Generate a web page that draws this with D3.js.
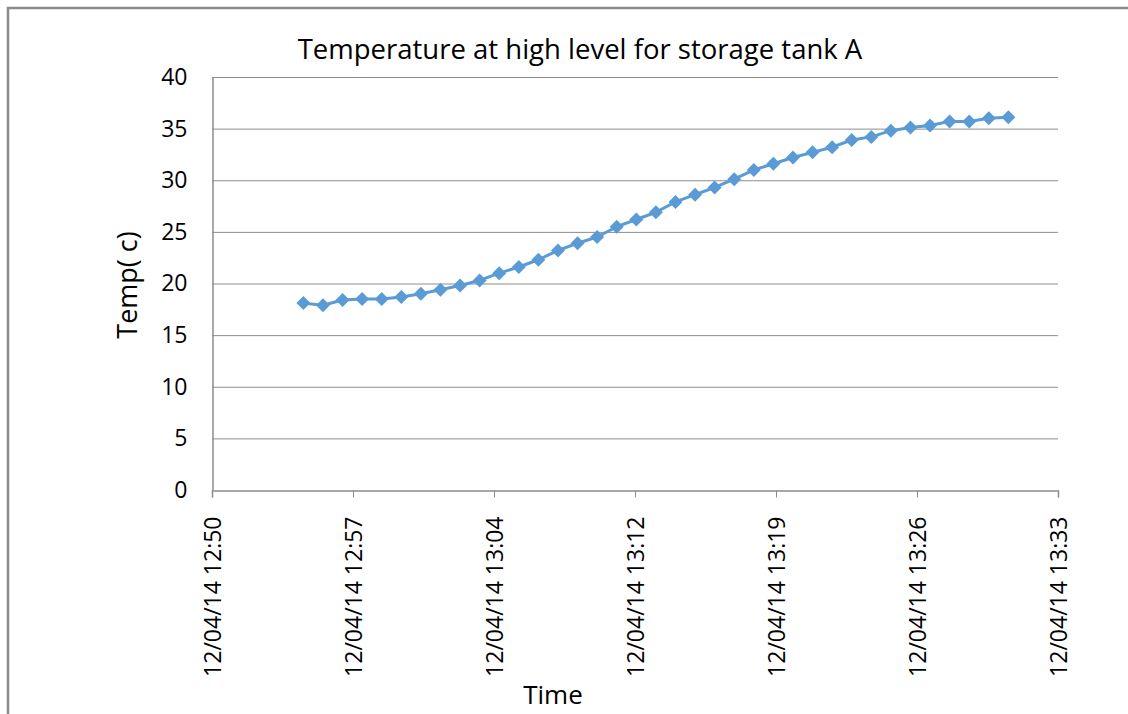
<!DOCTYPE html>
<html><head><meta charset="utf-8">
<script src="https://cdn.jsdelivr.net/npm/d3@7"></script>
<style>body{margin:0;background:#fff}svg{display:block}text{font-family:"Open Sans",sans-serif;fill:#000}</style>
</head><body><svg id="c" width="1128" height="714"></svg>
<script>
const title = "Temperature at high level for storage tank A";
const xTitle = "Time";
const yTitle = "Temp( c)";
const startTime = "2014-04-12T12:54:40";
const minuteOffsets = [0,1,2,3,4,5,6,7,8,9,10,11,12,13,14,15,16,17,18,19,20,21,22,23,24,25,26,27,28,29,30,31,32,33,34,35,36];
const temps = [18.1,17.9,18.4,18.5,18.5,18.7,19.0,19.4,19.8,20.3,21.0,21.6,22.3,23.2,23.9,24.5,25.5,26.2,26.9,27.9,28.6,29.3,30.1,31.0,31.6,32.2,32.7,33.2,33.9,34.2,34.8,35.1,35.3,35.7,35.7,36.0,36.1];
const xTickLabels = ["12/04/14 12:50","12/04/14 12:57","12/04/14 13:04","12/04/14 13:12","12/04/14 13:19","12/04/14 13:26","12/04/14 13:33"];
const yTicks = [0,5,10,15,20,25,30,35,40];

const svg = d3.select("#c");
const m = {l:212, r:1058, t:77, b:490};
const t0 = new Date("2014-04-12T12:50:00");
const stepMs = 0.005*86400000; // Excel major unit 0.005 day
const xTickDates = xTickLabels.map((d,i)=> new Date(t0.getTime()+i*stepMs));
const x = d3.scaleTime().domain([xTickDates[0], xTickDates[xTickDates.length-1]]).range([m.l, m.r]);
const y = d3.scaleLinear().domain([0,40]).range([m.b, m.t]);
const s0 = new Date(startTime);
const data = minuteOffsets.map((o,i)=>({t:new Date(s0.getTime()+o*60000), v:temps[i]}));
const FONT = "'Open Sans',sans-serif";

// chart frame
svg.append("path").attr("d","M8,714 V8 H1128").attr("fill","none").attr("stroke","#8c8c8c").attr("stroke-width",2.5);

// gridlines
svg.append("g").selectAll("line").data(yTicks.filter(d=>d>0)).join("line")
  .attr("x1",m.l).attr("x2",m.r).attr("y1",d=>y(d)+0.5).attr("y2",d=>y(d)+0.5)
  .attr("stroke","#8c8c8c").attr("stroke-width",1);

// y axis
const ya = svg.append("g").attr("transform",`translate(${m.l+0.5},0)`)
  .call(d3.axisLeft(y).tickValues(yTicks).tickSize(0).tickPadding(25));
ya.select(".domain").attr("stroke","#8c8c8c").attr("stroke-width",1.5);
ya.selectAll("text").attr("font-size",23).style("font-family",FONT);

// x axis
const xa = svg.append("g").attr("transform",`translate(0,${m.b+0.5})`)
  .call(d3.axisBottom(x).tickValues(xTickDates).tickSize(7).tickFormat((d,i)=>xTickLabels[i]));
xa.select(".domain").attr("stroke","#8c8c8c").attr("stroke-width",1.5);
xa.selectAll(".tick line").attr("stroke","#8c8c8c");
xa.selectAll("text").attr("font-size",23).style("font-family",FONT)
  .attr("transform","rotate(-90)").attr("text-anchor","end").attr("dy","0.36em").attr("x",-26).attr("y",0);

// line
svg.append("path").datum(data).attr("fill","none").attr("stroke","#5b9bd5").attr("stroke-width",3)
  .attr("stroke-linejoin","round")
  .attr("d",d3.line().x(d=>x(d.t)).y(d=>y(d.v)));
svg.append("g").selectAll("path").data(data).join("path")
  .attr("transform",d=>`translate(${x(d.t)},${y(d.v)})`)
  .attr("d","M0,-7 L7,0 L0,7 L-7,0 Z").attr("fill","#5b9bd5");

// titles
svg.append("text").attr("x",580).attr("y",59).attr("text-anchor","middle").attr("font-size",27.5).text(title);
svg.append("text").attr("x",553).attr("y",704).attr("text-anchor","middle").attr("font-size",26).text(xTitle);
svg.append("text").attr("transform","translate(137,285) rotate(-90)").attr("text-anchor","middle").attr("font-size",27).text(yTitle);
</script></body></html>
